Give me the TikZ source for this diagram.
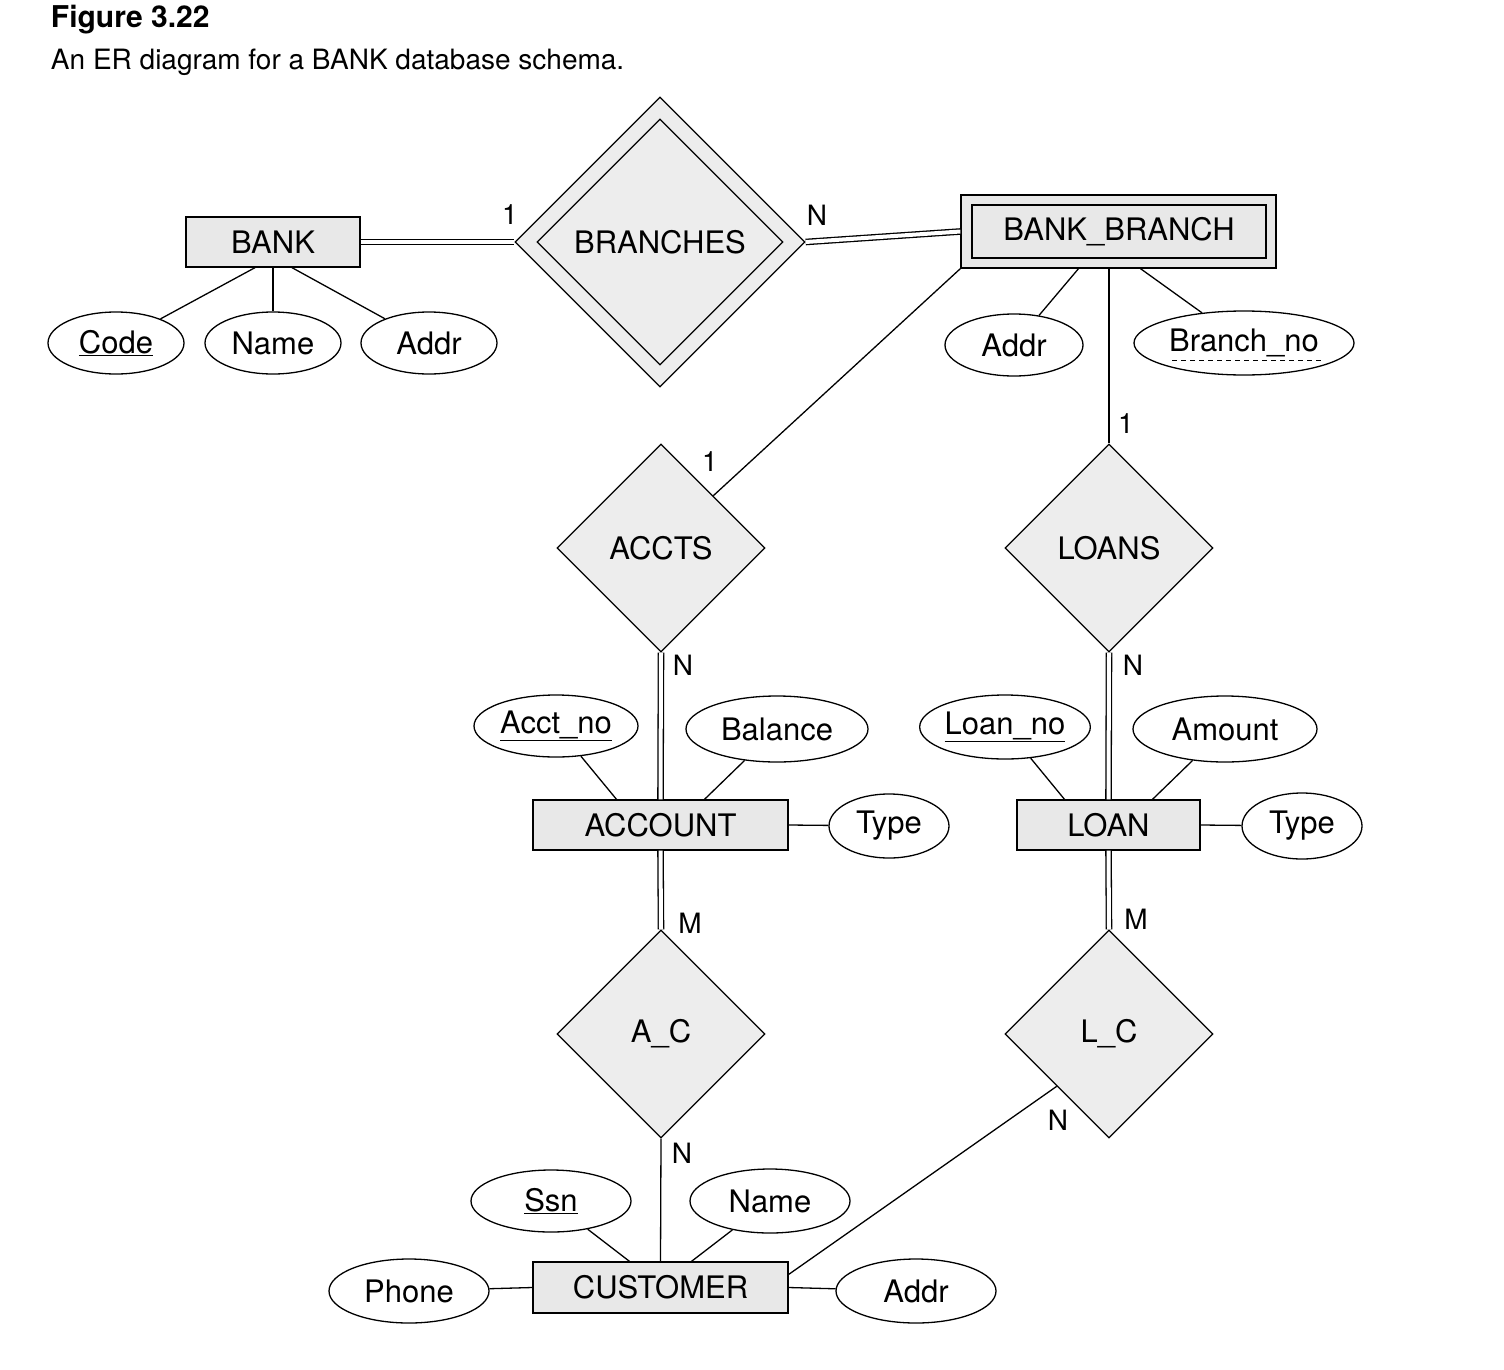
\documentclass[tikz,border=0pt]{standalone}
\usepackage{fontspec}
\setmainfont{TeX Gyre Heros}
\usetikzlibrary{shapes.geometric,calc}
\begin{document}
\begin{tikzpicture}[x=1pt,y=-1pt,line width=1.3pt,
  every node/.style={font=\fontsize{31}{36}\selectfont},
  ent/.style={draw,fill=black!9,rectangle,inner sep=0pt},
  rel/.style={draw,fill=black!7,diamond,minimum width=208pt,minimum height=208pt,inner sep=0pt},
  att/.style={draw,fill=white,ellipse,inner sep=0pt},
  dbl/.style={double,double distance=4pt},
  card/.style={font=\fontsize{28}{32}\selectfont}]
\useasboundingbox (0,0) rectangle (1504,1370);
\node[anchor=base west,font=\fontsize{30}{34}\selectfont\bfseries] (t1) at (47,28) {Figure 3.22};
\node[anchor=base west,font=\fontsize{28}{32}\selectfont] (t2) at (47,70) {An ER diagram for a BANK database schema.};
% entities
\node[ent,minimum width=174pt,minimum height=50pt] (bank) at (273,242) {BANK};
\node[ent,minimum width=315pt,minimum height=73pt] (bb) at (1118.5,231.5) {};
\node[draw,minimum width=294pt,minimum height=53pt,inner sep=0pt] (bbi) at (1119,231.5) {BANK\_BRANCH};
\node[ent,minimum width=255pt,minimum height=50pt] (account) at (660.5,825) {ACCOUNT};
\node[ent,minimum width=183pt,minimum height=50pt] (loan) at (1108.5,825) {LOAN};
\node[ent,minimum width=255pt,minimum height=51pt] (cust) at (660.5,1287.5) {CUSTOMER};
% relationships
\node[draw,fill=black!7,diamond,minimum width=290pt,minimum height=290pt,inner sep=0pt] (br) at (660,242) {};
\node[draw,diamond,minimum width=246pt,minimum height=246pt,inner sep=0pt] (bri) at (660,242) {BRANCHES};
\node[rel] (accts) at (661,548) {ACCTS};
\node[rel] (loans) at (1109,548) {LOANS};
\node[rel] (ac) at (661,1034) {A\_C};
\node[rel] (lc) at (1109,1034) {L\_C};
% attributes
\node[att,minimum width=136pt,minimum height=62pt] (code) at (116,343) {\underline{Code}};
\node[att,minimum width=136pt,minimum height=62pt] (bname) at (273,343) {Name};
\node[att,minimum width=136pt,minimum height=62pt] (baddr) at (429,343) {Addr};
\node[att,minimum width=138pt,minimum height=62pt] (bbaddr) at (1014,345) {Addr};
\node[att,minimum width=220pt,minimum height=64pt] (bno) at (1244,343) {Branch\_no};
\draw[dashed,line width=1pt,dash pattern=on 5pt off 4pt] ($(bno.center)+(-72,17)$) -- ($(bno.center)+(80,17)$);
\node[att,minimum width=164pt,minimum height=62pt] (acctno) at (556,726) {\underline{Acct\_no}};
\node[att,minimum width=182pt,minimum height=66pt] (bal) at (777,729) {Balance};
\node[att,minimum width=120pt,minimum height=64pt] (atype) at (889,826) {Type};
\node[att,minimum width=166pt,minimum height=64pt] (loanno) at (1005,727) {\underline{Loan\_no}};
\node[att,minimum width=184pt,minimum height=66pt] (amt) at (1225,729) {Amount};
\node[att,minimum width=120pt,minimum height=66pt] (ltype) at (1302,826) {Type};
\node[att,minimum width=160pt,minimum height=62pt] (ssn) at (551,1201) {\underline{Ssn}};
\node[att,minimum width=160pt,minimum height=64pt] (cname) at (770,1201) {Name};
\node[att,minimum width=160pt,minimum height=64pt] (phone) at (409,1291) {Phone};
\node[att,minimum width=160pt,minimum height=64pt] (caddr) at (916,1291) {Addr};
% connectors
\draw[dbl] (bank.east) -- (br.west);
\draw[dbl] (br.east) -- (bb.west);
\draw ($(bank.south)+(-18,0)$) -- (code);
\draw (bank.south) -- (bname);
\draw ($(bank.south)+(19,0)$) -- (baddr);
\draw ($(bb.south)+(-40,0)$) -- (bbaddr);
\draw ($(bb.south)+(22,0)$) -- (bno);
\draw (bb.south west) -- (accts.north east);
\draw ($(bb.south)+(-9.5,0)$) -- (loans.north);
\draw[dbl] (accts.south) -- (account.north);
\draw[dbl] (loans.south) -- (loan.north);
\draw ($(account.north)+(-44,0)$) -- (acctno);
\draw ($(account.north)+(44,0)$) -- (bal);
\draw (account.east) -- (atype);
\draw ($(loan.north)+(-44,0)$) -- (loanno);
\draw ($(loan.north)+(44,0)$) -- (amt);
\draw (loan.east) -- (ltype);
\draw[dbl] (account.south) -- (ac.north);
\draw[dbl] (loan.south) -- (lc.north);
\draw (ac.south) -- (cust.north);
\draw (lc.south west) -- ($(cust.north east)!0.25!(cust.south east)$);
\draw ($(cust.north)+(-31,0)$) -- (ssn);
\draw ($(cust.north)+(31,0)$) -- (cname);
\draw (cust.west) -- (phone);
\draw (cust.east) -- (caddr);
% cardinalities
\node[card] (c1) at (510,215) {1};
\node[card] (c2) at (817,215) {N};
\node[card] (c3) at (710,462) {1};
\node[card] (c4) at (1126,424) {1};
\node[card] (c5) at (683,665) {N};
\node[card] (c6) at (1133,665) {N};
\node[card] (c7) at (690,923) {M};
\node[card] (c8) at (1136,919) {M};
\node[card] (c9) at (682,1153) {N};
\node[card] (c10) at (1058,1120) {N};
\end{tikzpicture}
\end{document}
